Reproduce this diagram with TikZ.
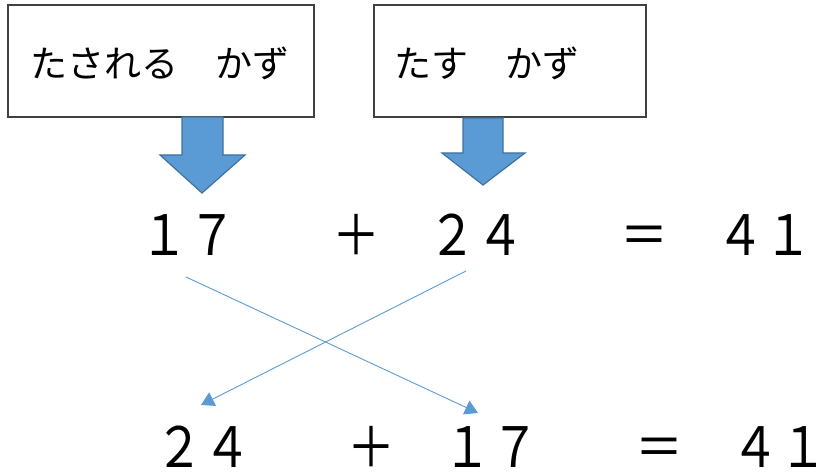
\documentclass[tikz,border=0pt]{standalone}
\usepackage{fontspec}
\newfontfamily\jp{Noto Sans CJK JP}
\usetikzlibrary{arrows.meta}
\definecolor{blockfill}{HTML}{5B9BD5}
\definecolor{blockline}{HTML}{41719C}
\definecolor{boxline}{HTML}{404040}
\tikzset{
  labelbox/.style={draw=boxline, line width=1.3pt, fill=white},
  boxtext/.style={anchor=west, inner sep=0pt, font=\jp\fontsize{37}{37}\selectfont},
  eqtext/.style={anchor=base west, inner sep=0pt, font=\jp\fontsize{48}{48}\selectfont},
  blockarrow/.style={fill=blockfill, draw=blockline, line width=1.2pt, line join=miter},
  swapline/.style={draw=blockfill, line width=0.9pt, -{Triangle[length=13pt,width=15pt]}}
}
\begin{document}
\begin{tikzpicture}[x=1pt,y=-1pt]
\useasboundingbox (0,0) rectangle (816,473);
% label boxes
\draw[labelbox] (8,5) rectangle (314,117);
\draw[labelbox] (374,5) rectangle (646,117);
\node[boxtext] (t1) at (30,63) {たされる　かず};
\node[boxtext] (t2) at (394,63) {たす　かず};
% block arrows
\draw[blockarrow] (182,117) -- (223,117) -- (223,155) -- (245,155) -- (202,193) -- (160,155) -- (182,155) -- cycle;
\draw[blockarrow] (463,118) -- (503,118) -- (503,153) -- (525,153) -- (483,185) -- (442,153) -- (463,153) -- cycle;
% equations
\node[eqtext] (eq1) at (140,255) {\scalebox{1}[1.16]{１７　　＋　２４　　＝　４１}};
\node[eqtext] (eq2) at (155,467) {\scalebox{1}[1.16]{２４　　＋　１７　　＝　４１}};
% connectors
\coordinate (a1) at (186,277);
\coordinate (a2) at (478,413);
\coordinate (b1) at (466,271);
\coordinate (b2) at (201,405);
\draw[swapline] (a1) -- (a2);
\draw[swapline] (b1) -- (b2);
\end{tikzpicture}
\end{document}
